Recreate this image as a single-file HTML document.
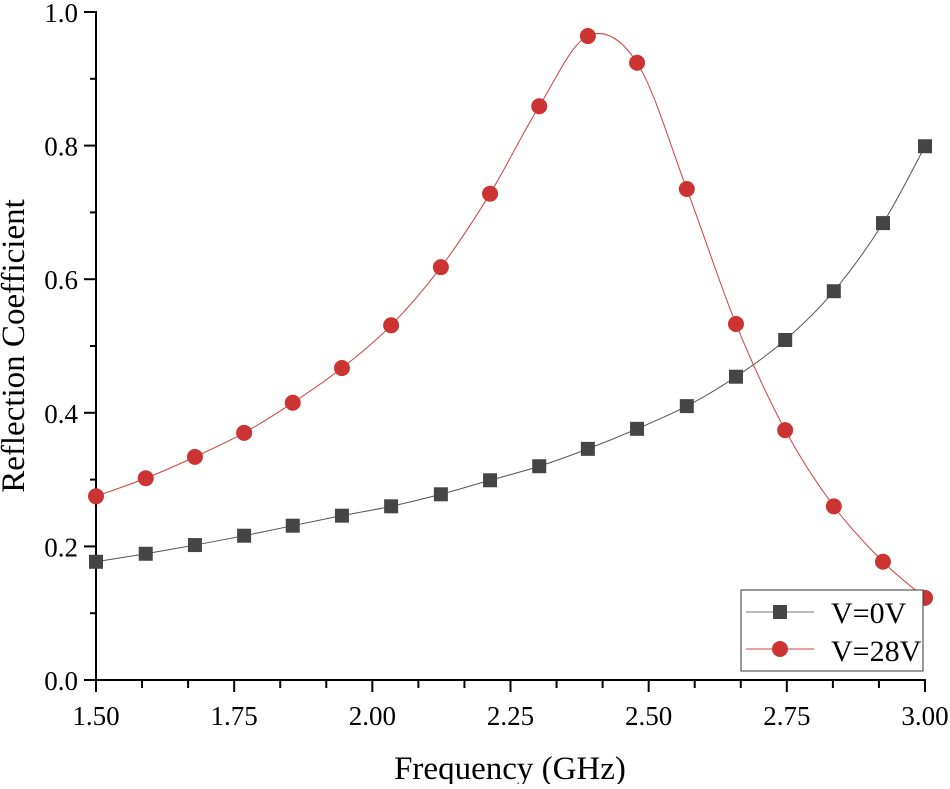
<!DOCTYPE html>
<html><head><meta charset="utf-8"><style>
body{margin:0;background:#fff}
svg text{font-family:"Liberation Serif",serif;fill:#000}
</style></head><body>
<svg id="chart" width="950" height="784" xmlns="http://www.w3.org/2000/svg">
</svg>
<script>
const xMarkers=[1.5,1.590,1.679,1.768,1.856,1.945,2.034,2.124,2.213,2.302,2.390,2.479,2.569,2.658,2.747,2.835,2.924,3.0];
const v0Values=[0.177,0.189,0.202,0.216,0.231,0.246,0.260,0.278,0.299,0.320,0.346,0.376,0.410,0.454,0.509,0.582,0.684,0.799];
const v28Values=[0.275,0.302,0.334,0.370,0.415,0.467,0.531,0.618,0.728,0.859,0.964,0.924,0.735,0.533,0.374,0.260,0.177,0.123];
const xTicks=["1.50","1.75","2.00","2.25","2.50","2.75","3.00"];
const yTicks=["0.0","0.2","0.4","0.6","0.8","1.0"];
const NS="http://www.w3.org/2000/svg";
const svg=document.getElementById('chart');
const X=v=>96+(v-1.5)*829/1.5;
const Y=v=>680-v*668;
function mk(tag,attrs,parent){const e=document.createElementNS(NS,tag);for(const k in attrs)e.setAttribute(k,attrs[k]);(parent||svg).appendChild(e);return e;}
let a=mk('line',{x1:96,y1:680,x2:926,y2:680,stroke:'#000','stroke-width':2});

a=mk('line',{x1:96,y1:11,x2:96,y2:681,stroke:'#000','stroke-width':2});

for(let i=0;i<=18;i++){const v=1.5+i*(1.5/18);const major=i%3==0;
 mk('line',{x1:X(v),y1:680,x2:X(v),y2:major?692:688,stroke:'#000','stroke-width':2});}
xTicks.forEach(t=>{const e=mk('text',{x:X(+t),y:725,'font-size':27,'text-anchor':'middle'});e.textContent=t;
 });
for(let i=0;i<=10;i++){const v=i*0.1;mk('line',{x1:i%2?90:84,y1:Y(v),x2:96,y2:Y(v),stroke:'#000','stroke-width':2});}
yTicks.forEach(t=>{const e=mk('text',{x:78,y:Y(+t)+10,'font-size':27,'text-anchor':'end'});e.textContent=t;
 });
let tt=mk('text',{x:510,y:779,'font-size':33,'text-anchor':'middle'});tt.textContent='Frequency (GHz)';

tt=mk('text',{x:0,y:0,'font-size':33,'text-anchor':'middle',transform:'translate(24,346) rotate(-90)'});tt.textContent='Reflection Coefficient';

function smooth(pts){let d=`M${pts[0][0]},${pts[0][1]}`;
 for(let i=0;i<pts.length-1;i++){const p0=pts[Math.max(0,i-1)],p1=pts[i],p2=pts[i+1],p3=pts[Math.min(pts.length-1,i+2)];
  d+=` C${p1[0]+(p2[0]-p0[0])/6},${p1[1]+(p2[1]-p0[1])/6} ${p2[0]-(p3[0]-p1[0])/6},${p2[1]-(p3[1]-p1[1])/6} ${p2[0]},${p2[1]}`;}
 return d;}
const p0=xMarkers.map((x,i)=>[X(x),Y(v0Values[i])]);
let l=mk('path',{d:smooth(p0),fill:'none',stroke:'#555','stroke-width':1});

const p1=xMarkers.map((x,i)=>[X(x),Y(v28Values[i])]);
l=mk('path',{d:smooth(p1),fill:'none',stroke:'#d04040','stroke-width':1});

p0.forEach(p=>{const e=mk('rect',{x:p[0]-7,y:p[1]-7,width:14,height:14,fill:'#454545'});
 });
p1.forEach(p=>{const e=mk('circle',{cx:p[0],cy:p[1],r:8,fill:'#cc3333'});
 });
const lg=mk('g',{});
mk('rect',{x:741,y:590,width:182,height:81,fill:'#fff',stroke:'#333','stroke-width':1},lg);
mk('line',{x1:746,y1:612,x2:814,y2:612,stroke:'#777','stroke-width':1},lg);
mk('rect',{x:773,y:605,width:14,height:14,fill:'#454545'},lg);
mk('line',{x1:746,y1:649,x2:814,y2:649,stroke:'#d04040','stroke-width':1},lg);
mk('circle',{cx:780,cy:649,r:8,fill:'#cc3333'},lg);
let e=mk('text',{x:831,y:623,'font-size':30},lg);e.textContent='V=0V';

e=mk('text',{x:831,y:661,'font-size':30},lg);e.textContent='V=28V';

</script>
</body></html>
